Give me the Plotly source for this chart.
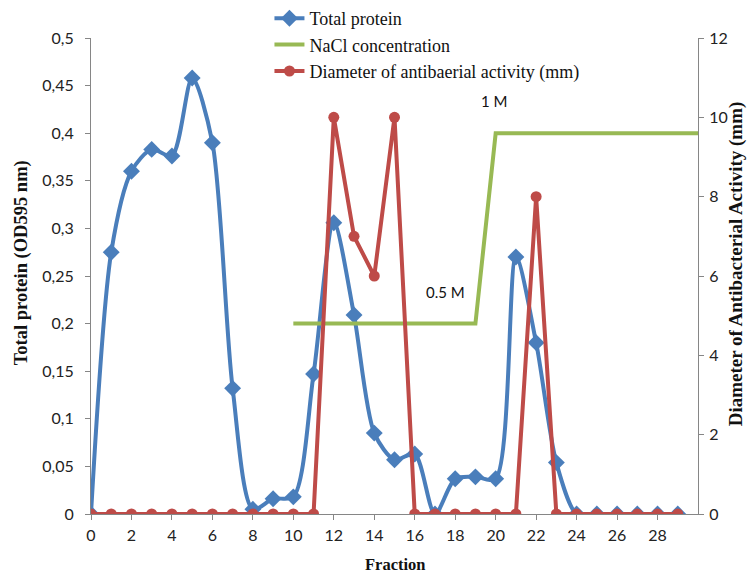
import plotly.graph_objects as go

fractions = list(range(0, 30))
total_protein = [0, 0.275, 0.36, 0.383, 0.376, 0.458, 0.39, 0.132, 0.005, 0.016,
                 0.018, 0.147, 0.306, 0.209, 0.085, 0.057, 0.063, 0, 0.037, 0.039,
                 0.037, 0.27, 0.18, 0.054, 0, 0, 0, 0, 0, 0]
nacl_x = [10, 19, 20, 30]
nacl_y = [0.2, 0.2, 0.4, 0.4]
activity = [0, 0, 0, 0, 0, 0, 0, 0, 0, 0,
            0, 0, 10, 7, 6, 10, 0, 0, 0, 0,
            0, 0, 8, 0, 0, 0, 0, 0, 0, 0]
x_ticks = list(range(0, 29, 2))
y_ticks = [0, 0.05, 0.1, 0.15, 0.2, 0.25, 0.3, 0.35, 0.4, 0.45, 0.5]
y_labels = ["0", "0,05", "0,1", "0,15", "0,2", "0,25", "0,3", "0,35", "0,4", "0,45", "0,5"]
y2_ticks = [0, 2, 4, 6, 8, 10, 12]

blue = "#4A7EBB"
green = "#98B954"
red = "#BE4B48"

fig = go.Figure()
fig.add_trace(go.Scatter(x=fractions, y=total_protein, name="Total protein",
                         mode="lines+markers", line=dict(color=blue, width=4, shape="spline", smoothing=0.8),
                         marker=dict(symbol="diamond", size=13, color=blue)))
fig.add_trace(go.Scatter(x=nacl_x, y=nacl_y, name="NaCl concentration",
                         mode="lines", line=dict(color=green, width=4)))
fig.add_trace(go.Scatter(x=fractions, y=activity, name="Diameter of antibaerial activity (mm)",
                         mode="lines+markers", line=dict(color=red, width=4),
                         marker=dict(symbol="circle", size=11, color=red), yaxis="y2"))

axis_font = dict(family="Lato, Open Sans, sans-serif", size=16, color="#222")
serif = "Liberation Serif, Times New Roman, serif"
note_font = dict(family="Lato, Open Sans, sans-serif", size=15, color="#111")

fig.update_layout(
    width=747, height=574,
    margin=dict(l=91, r=49, t=38, b=60, autoexpand=False),
    plot_bgcolor="white", paper_bgcolor="white",
    showlegend=True,
    legend=dict(x=0.294, y=1.002, xref="paper", yref="container", xanchor="left", yanchor="top",
                font=dict(family=serif, size=18, color="#111"),
                bgcolor="rgba(0,0,0,0)", tracegroupgap=0, itemwidth=30),
    xaxis=dict(range=[0, 30], tickvals=x_ticks, showgrid=False, zeroline=False,
               showline=True, linecolor="#868686", linewidth=1, ticks="outside",
               tickcolor="#868686", ticklen=5, tickfont=axis_font, automargin=False,
               ticklabelstandoff=2),
    yaxis=dict(range=[0, 0.5], tickvals=y_ticks, ticktext=y_labels, showgrid=False,
               zeroline=False, showline=True, linecolor="#868686", linewidth=1,
               ticks="outside", tickcolor="#868686", ticklen=5, tickfont=axis_font,
               automargin=False, ticklabelstandoff=8),
    yaxis2=dict(range=[0, 12], tickvals=y2_ticks, overlaying="y", side="right",
                showgrid=False, zeroline=False, showline=True, linecolor="#868686",
                linewidth=1, ticks="outside", tickcolor="#868686", ticklen=5,
                tickfont=axis_font, automargin=False, ticklabelstandoff=2),
    annotations=[
        dict(x=19.9, y=0.434, xref="x", yref="y", text="1 M", showarrow=False, font=note_font),
        dict(x=17.5, y=0.233, xref="x", yref="y", text="0.5 M", showarrow=False, font=note_font),
        dict(x=0.5, y=-0.107, xref="paper", yref="paper", text="<b>Fraction</b>",
             showarrow=False, font=dict(family=serif, size=16.5, color="#111"), yanchor="middle"),
        dict(x=-0.115, y=0.527, xref="paper", yref="paper", text="<b>Total protein (OD595 nm)</b>",
             showarrow=False, font=dict(family=serif, size=18.5, color="#111"),
             textangle=-90, xanchor="center", yanchor="middle"),
        dict(x=1.063, y=0.525, xref="paper", yref="paper",
             text="<b>Diameter of Antibacterial Activity (mm)</b>",
             showarrow=False, font=dict(family=serif, size=19, color="#111"),
             textangle=-90, xanchor="center", yanchor="middle"),
    ],
)

fig.write_html("out.html", config={"displayModeBar": False},
               post_script="document.body.style.margin='0';document.body.style.overflow='hidden';")
